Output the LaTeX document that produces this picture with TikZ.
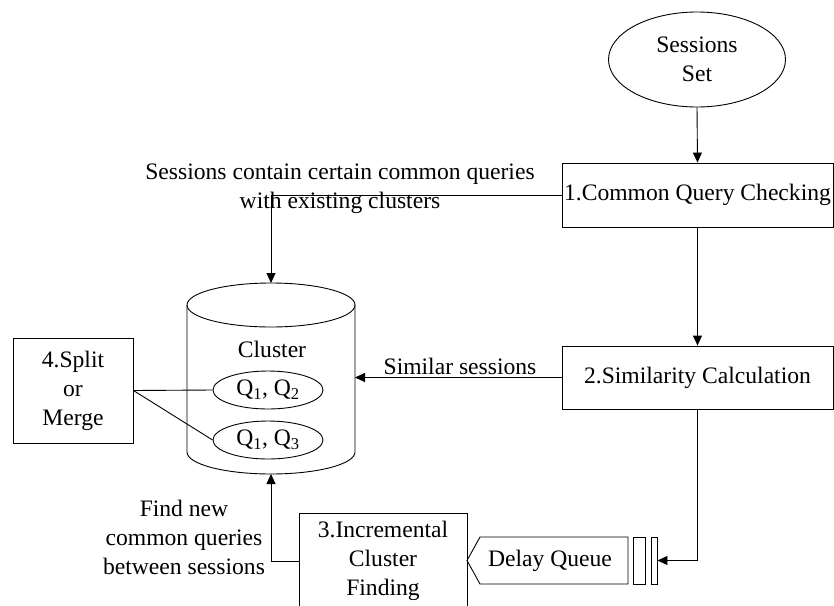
\documentclass[tikz,border=0pt]{standalone}
\usepackage{fontspec}
\setmainfont{Liberation Serif}
\usetikzlibrary{shapes.geometric,arrows.meta}
\begin{document}
\begin{tikzpicture}[x=1pt,y=-1pt,
  every node/.style={font=\fontsize{23.6}{29}\selectfont, inner sep=0pt},
  line/.style={line width=0.9pt, draw=black},
  arr/.style={line, -{Triangle[length=10pt,width=9pt]}},
  boxnode/.style={draw, line width=0.9pt, rectangle},
  ell/.style={draw, line width=0.9pt, ellipse}]
\useasboundingbox (0,0) rectangle (834,605);

% Sessions set
\node[ell, minimum width=177pt, minimum height=95pt, align=center] (ss) at (697,59.5) {Sessions\\Set};
% boxes
\node[boxnode, minimum width=271pt, minimum height=64pt] (b1) at (697.5,195) {1.Common Query Checking};
\node[boxnode, minimum width=271pt, minimum height=63pt] (b2) at (697.5,377.5) {2.Similarity Calculation};
\node[boxnode, minimum width=168pt, minimum height=96pt, align=center] (b3) at (383,561) {3.Incremental\\Cluster\\Finding};
\node[boxnode, minimum width=120pt, minimum height=105pt, align=center] (b4) at (73,390.5) {4.Split\\or\\Merge};

% Delay queue
\coordinate (dqa) at (480,537);
\coordinate (dqb) at (628,537);
\coordinate (dqc) at (628,584);
\coordinate (dqd) at (480,584);
\coordinate (dqe) at (467,560.5);
\draw[line] (dqa) -- (dqb) -- (dqc) -- (dqd) -- (dqe) -- cycle;
\node (dq) at (550,561) {Delay Queue};
\node[boxnode, minimum width=12pt, minimum height=47pt] (bar1) at (639,560.5) {};
\node[boxnode, minimum width=6pt, minimum height=47pt] (bar2) at (654,560.5) {};

% Cylinder
\coordinate (ctop) at (271,283);
\coordinate (cbot) at (271,474);
\coordinate (cright) at (355,377.5);
\draw[line] (271,305) ellipse (84pt and 22pt);
\draw[line] (187,305) -- (187,452) arc (180:360:84pt and 22pt) -- (355,305);
\node (cl) at (272,349) {Cluster};
\node[ell, minimum width=110pt, minimum height=38pt] (q12) at (268,390) {Q\textsubscript{1}, Q\textsubscript{2}};
\node[ell, minimum width=110pt, minimum height=38pt] (q13) at (268,440) {Q\textsubscript{1}, Q\textsubscript{3}};

% connectors
\draw[arr] (ss.south) -- (b1.north);
\draw[arr] (b1.south) -- (b2.north);
\draw[arr] (b1.west) -| (ctop);
\draw[arr] (b2.west) -- (cright);
\draw[arr] (b2.south) |- (bar2.east);
\draw[arr] (b3.west) -| (cbot);
\draw[line] (b4.east) -- (q12.west);
\draw[line] (b4.east) -- (q13.west);

% labels
\node[align=center] (lab1) at (340,189) {Sessions contain certain common queries\\with existing clusters};
\node (lab2) at (460,366) {Similar sessions};
\node[align=center] (lab3) at (184,537) {Find new\\common queries\\between sessions};
\end{tikzpicture}
\end{document}
